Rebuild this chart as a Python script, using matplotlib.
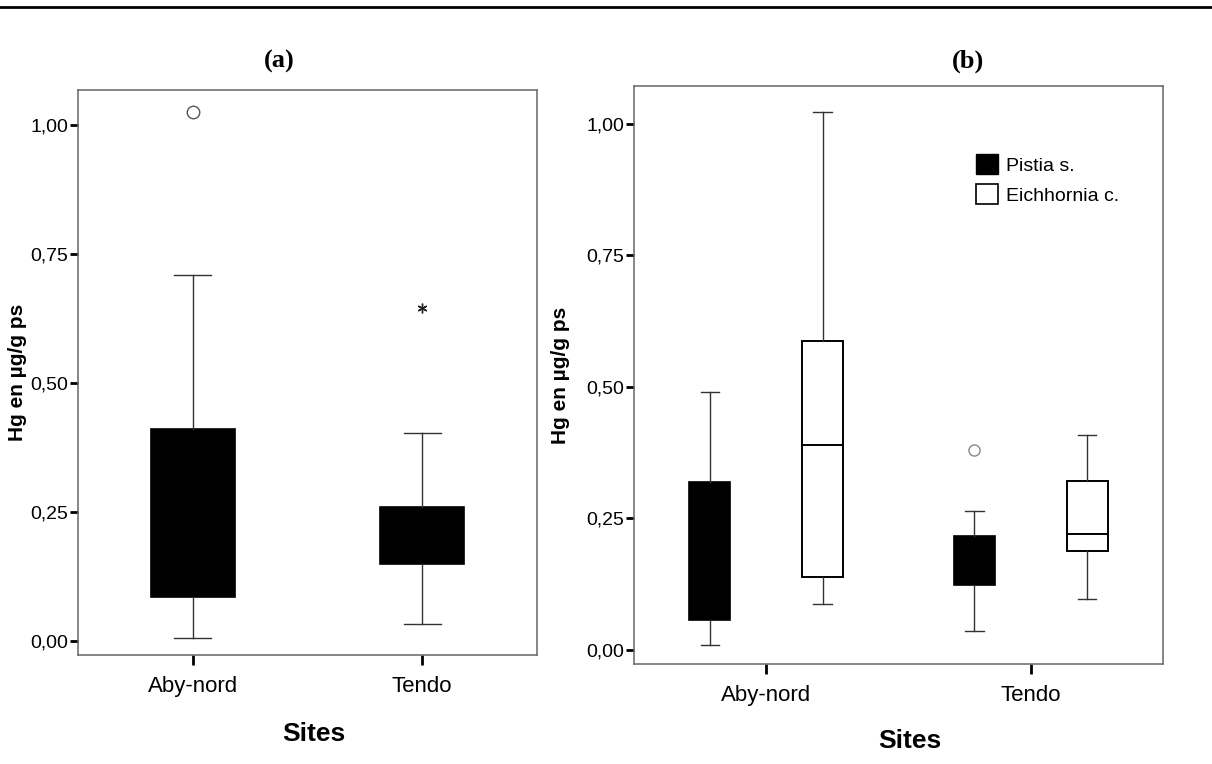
import matplotlib
matplotlib.use("Agg")
import matplotlib.pyplot as plt
from matplotlib.patches import Patch
from matplotlib.lines import Line2D

# --- data ---
sites = ["Aby-nord", "Tendo"]
y_ticks = [0.0, 0.25, 0.50, 0.75, 1.00]
y_tick_labels = ["0,00", "0,25", "0,50", "0,75", "1,00"]

# (a) both species pooled
a_whislo = [0.006, 0.033]
a_q1 = [0.086, 0.150]
a_med = [0.234, 0.200]
a_q3 = [0.411, 0.259]
a_whishi = [0.709, 0.404]
a_outliers = [[1.025], []]
a_extremes = [[], [0.646]]

# (b) per species
species = ["Pistia s.", "Eichhornia c."]
pistia_whislo = [0.009, 0.036]
pistia_q1 = [0.056, 0.123]
pistia_med = [0.123, 0.188]
pistia_q3 = [0.320, 0.217]
pistia_whishi = [0.490, 0.264]
pistia_outliers = [[], [0.379]]

eich_whislo = [0.088, 0.097]
eich_q1 = [0.138, 0.188]
eich_med = [0.389, 0.221]
eich_q3 = [0.587, 0.321]
eich_whishi = [1.022, 0.408]
eich_outliers = [[], []]


def stats(lo, q1, med, q3, hi, fl):
    return [dict(whislo=lo[i], q1=q1[i], med=med[i], q3=q3[i], whishi=hi[i],
                 fliers=fl[i]) for i in range(len(lo))]


plt.rcParams["font.family"] = ["Liberation Sans", "DejaVu Sans"]

W, H = 1212, 764
fig = plt.figure(figsize=(W / 100, H / 100), dpi=100)


def px_axes(l, t, r, b):
    return fig.add_axes([l / W, 1 - b / H, (r - l) / W, (b - t) / H])


def style(ax, ylo, yhi):
    ax.set_xlim(-0.5, 1.5)
    ax.set_ylim(ylo, yhi)
    ax.set_yticks(y_ticks)
    ax.set_yticklabels(y_tick_labels, fontsize=14)
    ax.set_xticks([0, 1])
    ax.set_xticklabels(sites, fontsize=16)
    ax.tick_params(axis="y", direction="out", length=6, width=2, pad=1)
    ax.tick_params(axis="x", direction="out", length=7, width=2, pad=8)
    for sp in ax.spines.values():
        sp.set_color("#666666")
        sp.set_linewidth(1.1)


box_black = dict(facecolor="black", edgecolor="black", linewidth=1.2)
box_white = dict(facecolor="white", edgecolor="black", linewidth=1.4)
whisk = dict(color="#333333", linewidth=1.0)
flier = dict(marker="o", markersize=9, markerfacecolor="none",
             markeredgecolor="#555555", markeredgewidth=1.0)

# ---------------- panel (a) ----------------
ax1 = px_axes(78, 90, 537, 655)
ax1.bxp(stats(a_whislo, a_q1, a_med, a_q3, a_whishi, a_outliers),
        positions=[0, 1], widths=0.365, capwidths=0.16, patch_artist=True,
        boxprops=box_black, whiskerprops=whisk, capprops=whisk,
        medianprops=dict(color="black", linewidth=1.2), flierprops=flier,
        manage_ticks=False)
for i, ext in enumerate(a_extremes):
    if ext:
        ax1.plot([i] * len(ext), ext, linestyle="none", marker=(6, 2, 0),
                 markersize=7, color="#222222", markeredgewidth=1.0)
style(ax1, -0.027, 1.068)
ax1.set_ylabel("Hg en µg/g ps", fontsize=15, fontweight="bold")
ax1.yaxis.set_label_coords((27 - 78) / 459, 0.5)
ax1.set_xlabel("Sites", fontsize=19, fontweight="bold")
ax1.xaxis.set_label_coords(0.514, -0.118)
ax1.text(0.438, 1.05, "(a)", transform=ax1.transAxes, ha="center", va="center",
         fontsize=19, fontweight="bold", family="Liberation Serif")

# ---------------- panel (b) ----------------
ax2 = px_axes(634, 86, 1163, 664)
off = 0.213
ax2.bxp(stats(pistia_whislo, pistia_q1, pistia_med, pistia_q3, pistia_whishi,
              pistia_outliers),
        positions=[0 - off, 1 - off], widths=0.155, capwidths=0.07,
        patch_artist=True, boxprops=box_black, whiskerprops=whisk,
        capprops=whisk, medianprops=dict(color="black", linewidth=1.2),
        flierprops=dict(flier, markersize=8, markeredgecolor="#888888"),
        manage_ticks=False)
ax2.bxp(stats(eich_whislo, eich_q1, eich_med, eich_q3, eich_whishi,
              eich_outliers),
        positions=[0 + off, 1 + off], widths=0.155, capwidths=0.07,
        patch_artist=True, boxprops=box_white, whiskerprops=whisk,
        capprops=whisk, medianprops=dict(color="black", linewidth=1.4),
        flierprops=flier, manage_ticks=False)
style(ax2, -0.027, 1.072)
ax2.set_ylabel("Hg en µg/g ps", fontsize=15, fontweight="bold")
ax2.yaxis.set_label_coords((570 - 634) / 529, 0.5)
ax2.set_xlabel("Sites", fontsize=19, fontweight="bold")
ax2.xaxis.set_label_coords(0.522, -0.112)
ax2.text(0.631, 1.042, "(b)", transform=ax2.transAxes, ha="center", va="center",
         fontsize=19, fontweight="bold", family="Liberation Serif")

handles = [Patch(facecolor="black", edgecolor="black"),
           Patch(facecolor="white", edgecolor="black", linewidth=1.2)]
ax2.legend(handles, species, loc="upper left", bbox_to_anchor=(0.628, 0.899),
           frameon=False, fontsize=14, borderpad=0, handlelength=1.15,
           handleheight=1.2, handletextpad=0.4, labelspacing=0.5)

# rule across the top of the page
fig.add_artist(Line2D([0, 1], [1 - 6.5 / H] * 2, transform=fig.transFigure,
                      color="black", linewidth=2))

fig.savefig("out.png", dpi=100, facecolor="white")
